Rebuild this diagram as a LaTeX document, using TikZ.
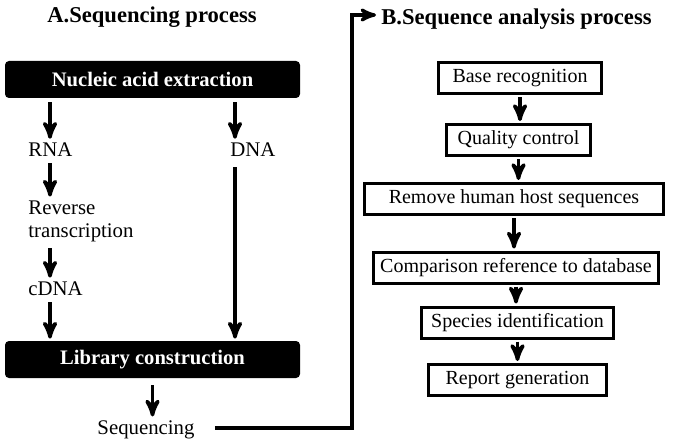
\documentclass[tikz,border=0pt]{standalone}
\usepackage{fontspec}
\setmainfont{Liberation Serif}
\usetikzlibrary{arrows}
\usetikzlibrary{positioning}
\newcommand{\abox}[4]{\node(#1)[abox,minimum width=#2] at (#3) {#4}}
\newcommand{\bbox}[3]{\node(#1)[blackbox] at (#2) {#3}}

\begin{document}
\begin{tikzpicture}[
    x=0.5pt,y=-0.5pt,
    every node/.style={font=\fontsize{10.4}{11.5}\selectfont},
    title/.style={font=\fontsize{11.3}{13}\selectfont\bfseries,inner sep=0pt},
    blackbox/.style={rectangle,fill=black,text=white,rounded corners=2pt,
                     minimum width=147.5pt,minimum height=18.5pt,
                     font=\fontsize{10.3}{12}\selectfont\bfseries},
    txt/.style={inner sep=1pt,anchor=west,align=left},
    abox/.style={rectangle,draw=black,line width=1.5pt,minimum height=15.5pt,inner sep=1pt,
                 font=\fontsize{10}{12}\selectfont},
    arr/.style={-stealth',line width=1.8pt,shorten <=2pt,shorten >=1pt}
  ]
  \useasboundingbox (0,0) rectangle (679,444);

  % part A
  \node (titleA)[title] at (152,17) {A.Sequencing process};
  \bbox{extract}{152.5,79.5}{Nucleic acid extraction};
  \bbox{lib}{152.5,359.5}{Library construction};
  \node (rna)[txt] at (26,150) {RNA};
  \node (rt)[txt] at (26,221.5) {Reverse\\transcription};
  \node (cdna)[txt] at (26,289) {cDNA};
  \node (dna)[txt] at (228,150) {DNA};
  \node (seq)[inner sep=1pt] at (146,430) {Sequencing};
  \coordinate (lcol) at (50,0);
  \coordinate (dcol) at (235,0);

  \draw[arr] (extract.south -| lcol) -- (rna.north -| lcol);
  \draw[arr] (rna.south -| lcol) -- (rt.north -| lcol);
  \draw[arr] (rt.south -| lcol) -- (cdna.north -| lcol);
  \draw[arr] (cdna.south -| lcol) -- (lib.north -| lcol);
  \draw[arr] (extract.south -| dcol) -- (dna.north -| dcol);
  \draw[arr,shorten <=4pt] (dna.south -| dcol) -- (lib.north -| dcol);
  \draw[arr,shorten <=3.5pt] (lib.south) -- (seq.north -| lib.south);

  % part B
  \node (titleB)[title] at (516.5,19) {B.Sequence analysis process};
  \abox{base}{81.5pt}{520,78.5}{Base recognition};
  \abox{qc}{72pt}{518.5,140}{Quality control};
  \abox{host}{149.5pt}{514,199}{Remove human host sequences};
  \abox{comp}{142.5pt}{516,267.5}{Comparison reference to database};
  \abox{species}{96pt}{517.5,322.5}{Species identification};
  \abox{report}{89pt}{517.5,380}{Report generation};

  \draw[arr,shorten <=1pt] (base.south) -- (base.south |- qc.north);
  \draw[arr,shorten <=1pt] (qc.south) -- (qc.south |- host.north);
  \draw[arr,shorten <=1pt] (host.south) -- (host.south |- comp.north);
  \draw[arr,shorten <=1pt] (comp.south) -- (comp.south |- species.north);
  \draw[arr,shorten <=1pt] (species.south) -- (species.south |- report.north);

  % link A -> B
  \coordinate (bend) at (352,15);
  \draw[arr,line width=1.6pt,shorten <=0pt,shorten >=2.5pt] ([xshift=9pt,yshift=1pt]seq.east) -| (bend) -- (bend -| titleB.west);
\end{tikzpicture}
\end{document}
